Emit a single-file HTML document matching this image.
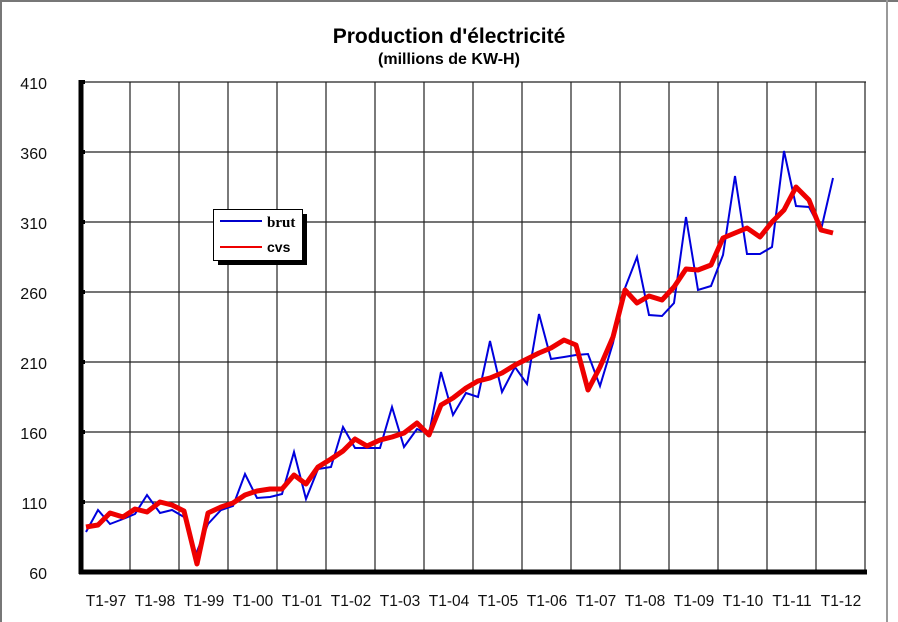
<!DOCTYPE html>
<html><head><meta charset="utf-8"><style>html,body{margin:0;padding:0;background:#fff}svg{display:block}</style></head>
<body>
<svg width="898" height="622" viewBox="0 0 898 622" xmlns="http://www.w3.org/2000/svg" font-family="Liberation Sans, Arial, sans-serif">
<rect x="0" y="0" width="898" height="622" fill="#fff"/>
<line x1="0" y1="1" x2="898" y2="1" stroke="#777" stroke-width="2"/>
<line x1="1" y1="0" x2="1" y2="622" stroke="#777" stroke-width="2"/>
<line x1="887" y1="0" x2="887" y2="622" stroke="#999" stroke-width="2"/>
<text x="449" y="43" text-anchor="middle" font-size="21" font-weight="bold">Production d'électricité</text>
<text x="449" y="64" text-anchor="middle" font-size="16" font-weight="bold">(millions de KW-H)</text>
<g stroke="#222" stroke-width="1.2">
<line x1="81" y1="82" x2="866" y2="82"/><line x1="81" y1="152" x2="866" y2="152"/><line x1="81" y1="222" x2="866" y2="222"/><line x1="81" y1="292" x2="866" y2="292"/><line x1="81" y1="362" x2="866" y2="362"/><line x1="81" y1="432" x2="866" y2="432"/><line x1="81" y1="502" x2="866" y2="502"/>
<line x1="130" y1="82" x2="130" y2="572"/><line x1="179" y1="82" x2="179" y2="572"/><line x1="228" y1="82" x2="228" y2="572"/><line x1="277" y1="82" x2="277" y2="572"/><line x1="326" y1="82" x2="326" y2="572"/><line x1="375" y1="82" x2="375" y2="572"/><line x1="424" y1="82" x2="424" y2="572"/><line x1="473" y1="82" x2="473" y2="572"/><line x1="522" y1="82" x2="522" y2="572"/><line x1="571" y1="82" x2="571" y2="572"/><line x1="620" y1="82" x2="620" y2="572"/><line x1="669" y1="82" x2="669" y2="572"/><line x1="718" y1="82" x2="718" y2="572"/><line x1="767" y1="82" x2="767" y2="572"/><line x1="816" y1="82" x2="816" y2="572"/><line x1="865" y1="82" x2="865" y2="572"/>
</g>
<polyline fill="none" stroke="#0000dd" stroke-width="2" stroke-linejoin="miter" points="86,532 98,510 110,524 123,519 135,514 147,495 160,513 172,510 184,517 196,554 208,524 221,510 233,506 245,474 257,498 270,497 282,494 294,452 306,499 318,469 331,467 343,427 355,448 367,448 380,448 392,407 404,447 417,429 429,434 441,372 453,415 466,393 478,397 490,341 502,392 515,367 527,384 539,314 551,359 564,357 576,355 588,354 600,386 613,343 625,288 637,257 649,315 662,316 674,303 686,217 698,290 711,286 723,255 735,176 747,254 760,254 772,247 784,151 796,206 809,207 821,230 833,178"/>
<polyline fill="none" stroke="#ee0000" stroke-width="5" stroke-linejoin="round" points="86,527 98,525 110,513 123,517 135,509 147,512 160,502 172,505 184,511 197,564 208,513 221,507 233,503 245,495 257,491 270,489 282,489 294,475 306,484 318,467 331,459 343,451 355,439 367,446 380,440 392,437 404,433 417,423 429,435 441,405 453,398 466,388 478,381 490,378 502,373 515,365 527,359 539,353 551,348 564,340 576,345 588,390 600,367 613,337 625,290 637,303 649,296 662,300 674,287 686,269 698,270 711,265 723,238 735,233 747,228 760,237 772,222 784,210 796,187 809,200 821,230 833,233"/>
<line x1="81" y1="80" x2="81" y2="574" stroke="#000" stroke-width="5"/>
<line x1="79" y1="572" x2="867" y2="572" stroke="#000" stroke-width="5"/>
<g fill="#000"><rect x="81" y="80" width="4" height="4"/><rect x="81" y="150" width="4" height="4"/><rect x="81" y="220" width="4" height="4"/><rect x="81" y="290" width="4" height="4"/><rect x="81" y="360" width="4" height="4"/><rect x="81" y="430" width="4" height="4"/><rect x="81" y="500" width="4" height="4"/></g>
<g font-size="16" fill="#111" text-anchor="end">
<text x="47" y="89">410</text><text x="47" y="159">360</text><text x="47" y="229">310</text><text x="47" y="299">260</text><text x="47" y="369">210</text><text x="47" y="439">160</text><text x="47" y="509">110</text><text x="47" y="579">60</text>
</g>
<g font-size="15.5" fill="#111" text-anchor="middle">
<text x="106" y="606">T1-97</text><text x="155" y="606">T1-98</text><text x="204" y="606">T1-99</text><text x="253" y="606">T1-00</text><text x="302" y="606">T1-01</text><text x="351" y="606">T1-02</text><text x="400" y="606">T1-03</text><text x="449" y="606">T1-04</text><text x="498" y="606">T1-05</text><text x="547" y="606">T1-06</text><text x="596" y="606">T1-07</text><text x="645" y="606">T1-08</text><text x="694" y="606">T1-09</text><text x="743" y="606">T1-10</text><text x="792" y="606">T1-11</text><text x="841" y="606">T1-12</text>
</g>
<rect x="218" y="214" width="89" height="51" fill="#000"/>
<rect x="213.5" y="209.5" width="89" height="51" fill="#fff" stroke="#000" stroke-width="1"/>
<line x1="220" y1="221" x2="262" y2="221" stroke="#0000cc" stroke-width="2"/>
<text x="267" y="227" font-size="15" font-weight="bold" font-family="Liberation Serif, serif">brut</text>
<line x1="220" y1="247" x2="262" y2="247" stroke="#ee0000" stroke-width="2"/>
<text x="267" y="252" font-size="14" font-weight="bold">cvs</text>
</svg>
</body></html>
